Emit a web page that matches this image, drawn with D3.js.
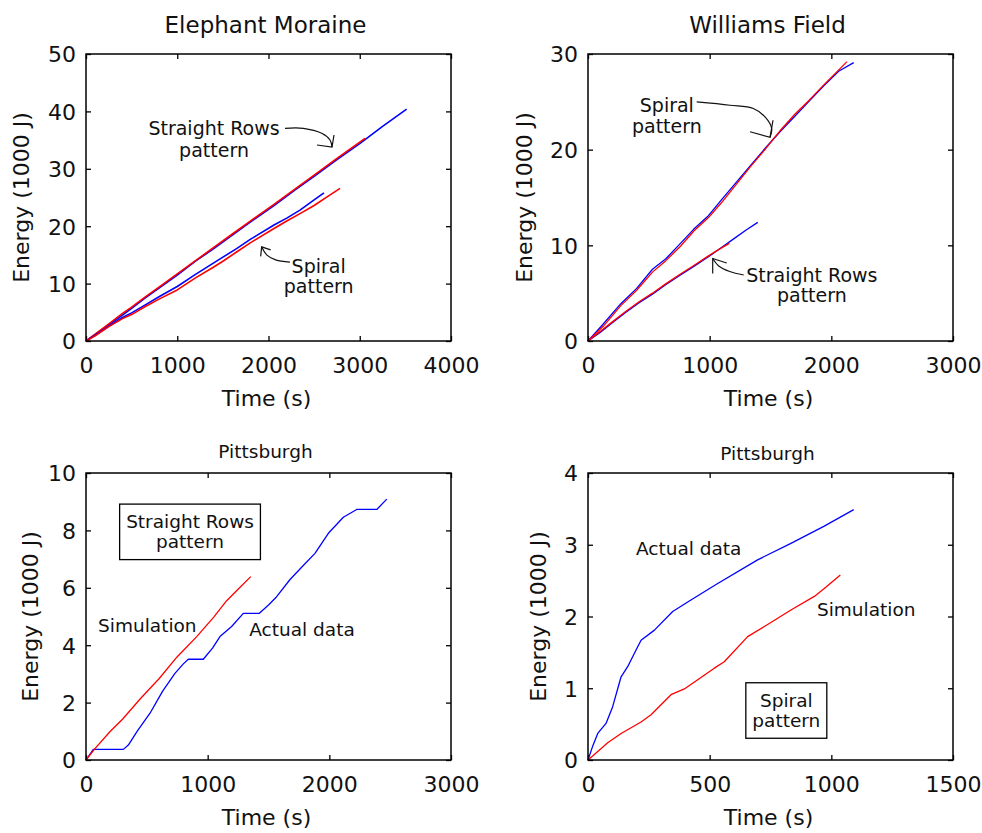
<!DOCTYPE html>
<html>
<head>
<meta charset="utf-8">
<script src="https://cdn.jsdelivr.net/npm/d3@7"></script>
<style>
body { margin: 0; background: #fff; }
svg { display: block; font-family: "DejaVu Sans", sans-serif; }
</style>
</head>
<body>
<svg id="chart" width="982" height="833"></svg>
<script>
// [time (s), energy (1000 J)]

// Elephant Moraine
var emStraightBlue = [[0,0],[100,1.1],[250,2.8],[400,4.5],[500,5.7],[650,7.5],[800,9.2],[1000,11.5],[1200,13.9],[1400,16.1],[1600,18.4],[1800,20.7],[2060,23.6],[2300,26.4],[2500,28.7],[2750,31.6],[3000,34.4],[3250,37.4],[3514,40.4]];
var emStraightRed = [[0,0],[100,1.2],[250,3.0],[400,4.8],[500,5.9],[650,7.7],[800,9.4],[1000,11.7],[1200,14.0],[1400,16.3],[1600,18.6],[1800,20.9],[2060,23.8],[2300,26.6],[2500,28.9],[2750,31.8],[3058,35.3]];
var emSpiralBlue = [[0,0],[100,1.0],[250,2.6],[400,4.1],[500,4.9],[650,6.3],[800,7.7],[1000,9.5],[1200,11.6],[1400,13.6],[1500,14.6],[1650,16.1],[1800,17.7],[2060,20.2],[2200,21.4],[2345,22.8],[2500,24.6],[2608,25.8]];
var emSpiralRed = [[0,0],[100,0.9],[250,2.5],[400,3.9],[500,4.6],[650,6.0],[800,7.3],[1000,8.9],[1200,11.0],[1400,12.9],[1500,13.9],[1650,15.5],[1800,17.1],[2060,19.6],[2200,20.9],[2345,22.2],[2500,23.6],[2650,25.2],[2784,26.6]];

// Williams Field
var wfSpiralBlue = [[0,0],[120,1.7],[270,3.9],[400,5.5],[530,7.5],[640,8.6],[760,10.2],[870,11.7],[990,13.1],[1100,14.8],[1220,16.6],[1340,18.4],[1460,20.2],[1580,21.9],[1700,23.5],[1820,25.1],[1940,26.7],[2060,28.2],[2184,29.1]];
var wfSpiralRed = [[0,0],[130,1.6],[270,3.7],[400,5.3],[530,7.2],[640,8.4],[760,9.9],[870,11.5],[990,12.9],[1100,14.5],[1220,16.4],[1340,18.3],[1460,20.1],[1580,22.0],[1700,23.7],[1820,25.2],[1940,26.8],[2129,29.2]];
var wfStraightBlue = [[0,0],[100,0.9],[200,1.9],[312,3.0],[420,4.0],[530,4.9],[641,5.9],[760,6.9],[870,7.8],[990,8.8],[1100,9.8],[1200,10.7],[1300,11.6],[1395,12.4]];
var wfStraightRed = [[0,0],[100,1.0],[200,2.0],[312,3.1],[420,4.1],[530,5.0],[641,6.0],[760,7.0],[870,7.9],[990,8.9],[1080,9.6],[1161,10.2]];

// Pittsburgh, straight rows
var pgRowsActual = [[0,0],[60,0.37],[160,0.37],[307,0.37],[348,0.52],[420,1.0],[526,1.63],[630,2.4],[731,3.02],[800,3.35],[841,3.51],[964,3.51],[1040,3.9],[1101,4.3],[1197,4.65],[1293,5.11],[1425,5.11],[1500,5.4],[1567,5.69],[1677,6.29],[1780,6.75],[1882,7.2],[1992,7.9],[2115,8.46],[2225,8.73],[2390,8.73],[2472,9.09]];
var pgRowsSim = [[0,0],[70,0.38],[200,1.0],[300,1.42],[450,2.15],[600,2.83],[750,3.6],[910,4.3],[1050,4.98],[1156,5.55],[1250,5.95],[1354,6.39]];

// Pittsburgh, spiral
var pgSpiralActual = [[0,0],[20,0.2],[40,0.37],[74,0.51],[101,0.74],[136,1.16],[163,1.3],[197,1.53],[218,1.67],[273,1.81],[348,2.07],[423,2.23],[533,2.46],[697,2.79],[834,3.02],[971,3.26],[1092,3.49]];
var pgSpiralSim = [[0,0],[40,0.12],[81,0.24],[136,0.37],[218,0.53],[259,0.63],[341,0.91],[396,0.99],[519,1.28],[560,1.37],[656,1.72],[725,1.86],[834,2.09],[930,2.28],[971,2.39],[1037,2.58]];

var titles = ["Elephant Moraine", "Williams Field", "Pittsburgh", "Pittsburgh"];
var xTicks = [[0,1000,2000,3000,4000],[0,1000,2000,3000],[0,1000,2000,3000],[0,500,1000,1500]];
var yTicks = [[0,10,20,30,40,50],[0,10,20,30],[0,2,4,6,8,10],[0,1,2,3,4]];

var BLUE = "#0000ff", RED = "#ff0000";

var svg = d3.select("#chart");

var panels = [
	{ left: 86, top: 54, title: titles[0], titleSize: 23, titleDy: -21, ylabOff: 57, lw: 1.6,
	  xt: xTicks[0], yt: yTicks[0],
	  series: [[emStraightBlue, BLUE], [emStraightRed, RED], [emSpiralBlue, BLUE], [emSpiralRed, RED]],
	  notes: [
		{ t: 1403, e: 35.9, lines: ["Straight Rows", "pattern"], anchor: "middle", size: 19, lh: 21.7 },
		{ t: 2550, e: 11.8, lines: ["Spiral", "pattern"], anchor: "middle", size: 19, lh: 20 }
	  ],
	  arrows: [
		{ t: 2696, e: 33.8, path: [[-47,-18.7],[-28.7,-18.7],[-10.3,-13.7],[-2,-7],[0,0]], head: [[2,-12],[0,0],[-15,-2]] },
		{ t: 1925, e: 16.4, path: [[28.3,15.3],[14,13],[5,8],[0,0]], head: [[9,3],[0,0],[-1,9.5]] }
	  ] },
	{ left: 588, top: 54, title: titles[1], titleSize: 23, titleDy: -21, ylabOff: 56, lw: 1.3,
	  xt: xTicks[1], yt: yTicks[1],
	  series: [[wfSpiralBlue, BLUE], [wfSpiralRed, RED], [wfStraightBlue, BLUE], [wfStraightRed, RED]],
	  notes: [
		{ t: 648, e: 23.97, lines: ["Spiral", "pattern"], anchor: "middle", size: 19, lh: 21 },
		{ t: 1840, e: 6.2, lines: ["Straight Rows", "pattern"], anchor: "middle", size: 19, lh: 20 }
	  ],
	  arrows: [
		{ t: 1496, e: 21.3, path: [[-73.3,-35.3],[-40,-32],[-16.7,-28.7],[-5,-20.3],[1.7,-8.7],[0,0]], head: [[3,-17],[0,0],[-20,-5.5]] },
		{ t: 1025, e: 8.62, path: [[31,16.5],[17,13],[6,7.5],[0,0]], head: [[0,15],[0,0],[14,4.5]] }
	  ] },
	{ left: 86, top: 473, title: titles[2], titleSize: 18.5, titleDy: -15, ylabOff: 48, lw: 1.3,
	  xt: xTicks[2], yt: yTicks[2],
	  series: [[pgRowsActual, BLUE], [pgRowsSim, RED]],
	  notes: [
		{ t: 855, e: 8.08, lines: ["Straight Rows", "pattern"], anchor: "middle", size: 18.5, lh: 20, box: true },
		{ t: 99, e: 4.47, lines: ["Simulation"], anchor: "start", size: 18.5, lh: 20 },
		{ t: 1342, e: 4.32, lines: ["Actual data"], anchor: "start", size: 18.5, lh: 20 }
	  ],
	  arrows: [] },
	{ left: 588, top: 473, title: titles[3], titleSize: 18.5, titleDy: -13, ylabOff: 42, lw: 1.3,
	  xt: xTicks[3], yt: yTicks[3],
	  series: [[pgSpiralActual, BLUE], [pgSpiralSim, RED]],
	  notes: [
		{ t: 197, e: 2.857, lines: ["Actual data"], anchor: "start", size: 18.5, lh: 20 },
		{ t: 941, e: 2.007, lines: ["Simulation"], anchor: "start", size: 18.5, lh: 20 },
		{ t: 815, e: 0.742, lines: ["Spiral", "pattern"], anchor: "middle", size: 18.5, lh: 20, box: true }
	  ],
	  arrows: [] }
];

var pw = 365, ph = 287;

panels.forEach(function(p) {
	var x = d3.scaleLinear().domain([0, d3.max(p.xt)]).range([0, pw]);
	var y = d3.scaleLinear().domain([0, d3.max(p.yt)]).range([ph, 0]);

	var g = svg.append("g").attr("transform", "translate(" + p.left + "," + p.top + ")");

	// axes, ticks pointing inwards on all four sides
	g.append("g").attr("transform", "translate(0," + ph + ")")
		.call(d3.axisBottom(x).tickValues(p.xt).tickSizeInner(-5).tickSizeOuter(0).tickPadding(16).tickFormat(d3.format("d")));
	var ay = g.append("g")
		.call(d3.axisLeft(y).tickValues(p.yt).tickSizeInner(-5).tickSizeOuter(0).tickPadding(10).tickFormat(d3.format("d")));
	g.append("g")
		.call(d3.axisTop(x).tickValues(p.xt).tickSizeInner(-5).tickSizeOuter(0).tickFormat(""));
	g.append("g").attr("transform", "translate(" + pw + ",0)")
		.call(d3.axisRight(y).tickValues(p.yt).tickSizeInner(-5).tickSizeOuter(0).tickFormat(""));

	g.selectAll(".domain").remove();
	g.selectAll(".tick line").attr("stroke", "#000").attr("stroke-width", 1.3);
	g.selectAll(".tick text").attr("font-family", "DejaVu Sans").attr("font-size", 22).attr("fill", "#111");
	ay.selectAll(".tick text").attr("dy", "0.36em");

	// data lines
	var line = d3.line().x(function(d){ return x(d[0]); }).y(function(d){ return y(d[1]); });
	p.series.forEach(function(s) {
		g.append("path")
			.datum(s[0])
			.attr("d", line)
			.attr("fill", "none")
			.attr("stroke", s[1])
			.attr("stroke-width", p.lw)
			.attr("stroke-linejoin", "round");
	});

	// frame
	g.append("rect")
		.attr("width", pw).attr("height", ph)
		.attr("fill", "none").attr("stroke", "#000").attr("stroke-width", 1.5);

	// titles and axis labels
	g.append("text")
		.attr("x", pw / 2 - 3).attr("y", p.titleDy)
		.attr("text-anchor", "middle").attr("font-size", p.titleSize).attr("fill", "#111")
		.text(p.title);
	g.append("text")
		.attr("x", pw / 2 - 2).attr("y", ph + 65)
		.attr("text-anchor", "middle").attr("font-size", 22).attr("fill", "#111")
		.text("Time (s)");
	g.append("text")
		.attr("transform", "translate(" + (-p.ylabOff) + "," + (ph / 2) + ") rotate(-90)")
		.attr("text-anchor", "middle").attr("font-size", 22).attr("fill", "#111")
		.text("Energy (1000 J)");

	// annotations
	p.notes.forEach(function(n) {
		var txt = g.append("text")
			.attr("text-anchor", n.anchor).attr("font-size", n.size).attr("fill", "#111");
		n.lines.forEach(function(l, i) {
			txt.append("tspan").attr("x", x(n.t)).attr("y", y(n.e) + i * n.lh).text(l);
		});
		if (n.box) {
			var bb = txt.node().getBBox();
			var last = y(n.e) + (n.lines.length - 1) * n.lh;
			g.insert("rect", function(){ return txt.node(); })
				.attr("x", bb.x - 6.5).attr("width", bb.width + 13)
				.attr("y", y(n.e) - 24).attr("height", last - y(n.e) + 24 + 11.5)
				.attr("fill", "#fff").attr("stroke", "#000").attr("stroke-width", 1.3);
		}
	});

	var curve = d3.line().curve(d3.curveCatmullRom);
	var straight = d3.line();
	p.arrows.forEach(function(a) {
		var tx = x(a.t), ty = y(a.e);
		var ag = g.append("g").attr("transform", "translate(" + tx + "," + ty + ")")
			.attr("fill", "none").attr("stroke", "#111").attr("stroke-width", 1.2);
		ag.append("path").attr("d", curve(a.path));
		ag.append("path").attr("d", straight(a.head));
	});
});
</script>
</body>
</html>
